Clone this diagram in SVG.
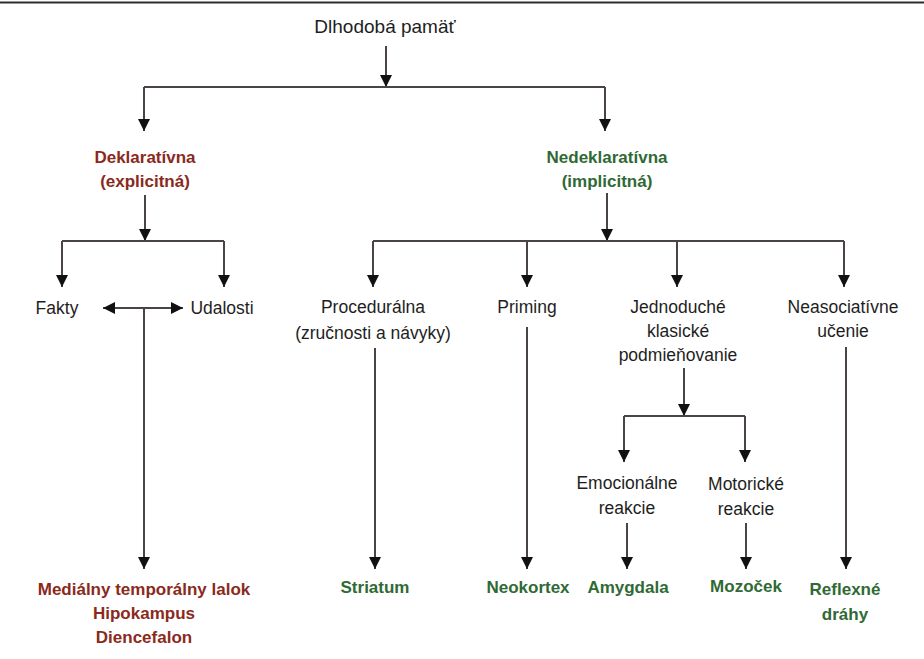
<svg xmlns="http://www.w3.org/2000/svg" width="924" height="659" viewBox="0 0 924 659">
<defs>
<marker id="ah" viewBox="0 0 12 12" refX="12" refY="6" markerWidth="12" markerHeight="12" markerUnits="userSpaceOnUse" orient="auto-start-reverse">
<path d="M0,0 L12,6 L0,12 z" fill="#111"/>
</marker>
<style>
text{font-family:"Liberation Sans",Arial,sans-serif;font-size:17.5px;text-anchor:middle;fill:#1e1e1e}
.t{font-size:19px}
.red{fill:#8a2a1c;font-weight:bold;font-size:17px}
.grn{fill:#2f6a34;font-weight:bold;font-size:17px}
.c{fill:none;stroke:#4a4444;stroke-width:2}
.a{marker-end:url(#ah)}
</style>
</defs>
<rect width="924" height="659" fill="#fff"/>
<line x1="0" y1="2.5" x2="924" y2="2.5" stroke="#2a2e2e" stroke-width="2"/>

<g id="n-root"><text class="t" x="385" y="33">Dlhodobá pamäť</text></g>
<g id="n-dekl"><text class="red" x="145" y="163">Deklaratívna</text><text class="red" x="145" y="187">(explicitná)</text></g>
<g id="n-nedekl"><text class="grn" x="607" y="163">Nedeklaratívna</text><text class="grn" x="607" y="187">(implicitná)</text></g>
<g id="n-fakty"><text x="57" y="314">Fakty</text></g>
<g id="n-udalosti"><text x="222" y="314">Udalosti</text></g>
<g id="n-proc"><text x="373" y="313">Procedurálna</text><text x="373" y="339">(zručnosti a návyky)</text></g>
<g id="n-priming"><text x="527" y="313">Priming</text></g>
<g id="n-jedn"><text x="678" y="313">Jednoduché</text><text x="678" y="337">klasické</text><text x="678" y="361">podmieňovanie</text></g>
<g id="n-neas"><text x="843" y="313">Neasociatívne</text><text x="843" y="337">učenie</text></g>
<g id="n-emo"><text x="627" y="489">Emocionálne</text><text x="627" y="514">reakcie</text></g>
<g id="n-mot"><text x="746" y="490">Motorické</text><text x="746" y="515">reakcie</text></g>
<g id="n-mtl"><text class="red" x="144" y="595">Mediálny temporálny lalok</text><text class="red" x="144" y="619">Hipokampus</text><text class="red" x="144" y="643">Diencefalon</text></g>
<g id="n-striatum"><text class="grn" x="375" y="593">Striatum</text></g>
<g id="n-neokortex"><text class="grn" x="528" y="593">Neokortex</text></g>
<g id="n-amygdala"><text class="grn" x="628" y="593">Amygdala</text></g>
<g id="n-mozocek"><text class="grn" x="746" y="592">Mozoček</text></g>
<g id="n-reflex"><text class="grn" x="845" y="595">Reflexné</text><text class="grn" x="845" y="620">dráhy</text></g>

<g id="connectors">
<line class="c a" x1="386" y1="46" x2="386" y2="87"/>
<polyline class="c" points="144,87 605,87"/>
<line class="c a" x1="144" y1="87" x2="144" y2="131"/>
<line class="c a" x1="605" y1="87" x2="605" y2="131"/>

<line class="c a" x1="145" y1="195" x2="145" y2="241"/>
<line class="c" x1="62" y1="241" x2="224" y2="241"/>
<line class="c a" x1="62" y1="241" x2="62" y2="287"/>
<line class="c a" x1="224" y1="241" x2="224" y2="287"/>

<line class="c a" x1="144" y1="308" x2="103" y2="308"/>
<line class="c a" x1="144" y1="308" x2="183" y2="308"/>
<line class="c a" x1="144" y1="308" x2="144" y2="569"/>

<line class="c a" x1="607" y1="193" x2="607" y2="241"/>
<line class="c" x1="373" y1="241" x2="844" y2="241"/>
<line class="c a" x1="373" y1="241" x2="373" y2="287"/>
<line class="c a" x1="527" y1="241" x2="527" y2="287"/>
<line class="c a" x1="677" y1="241" x2="677" y2="287"/>
<line class="c a" x1="844" y1="241" x2="844" y2="287"/>

<line class="c a" x1="375" y1="348" x2="375" y2="569"/>
<line class="c a" x1="527" y1="327" x2="527" y2="569"/>
<line class="c a" x1="846" y1="347" x2="846" y2="569"/>

<line class="c a" x1="684" y1="368" x2="684" y2="416"/>
<line class="c" x1="624" y1="416" x2="745" y2="416"/>
<line class="c a" x1="624" y1="416" x2="624" y2="462"/>
<line class="c a" x1="745" y1="416" x2="745" y2="462"/>

<line class="c a" x1="627" y1="523" x2="627" y2="569"/>
<line class="c a" x1="746" y1="523" x2="746" y2="569"/>
</g>
</svg>
